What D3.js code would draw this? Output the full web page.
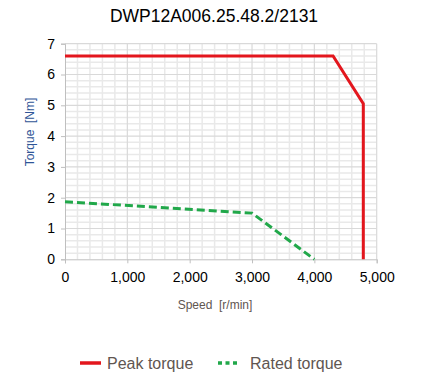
<!DOCTYPE html>
<html><head><meta charset="utf-8">
<script src="https://cdn.jsdelivr.net/npm/d3@7"></script>
<style>body{margin:0;background:#fff}svg{display:block}text{white-space:pre}</style>
</head><body>
<svg id="c" width="422" height="375"></svg>
<script>
const title = "DWP12A006.25.48.2/2131";
const xTicks = [0,1000,2000,3000,4000,5000];
const yTicks = [0,1,2,3,4,5,6,7];
const peakSpeed = [0,4300,4785,4785];
const peakTorque = [6.6,6.6,5.05,0];
const ratedSpeed = [0,3000,4000];
const ratedTorque = [1.87,1.5,0];
const seriesNames = ["Peak torque","Rated torque"];
const xLabel = "Speed\u00a0\u00a0[r/min]";
const yLabel = "Torque\u00a0\u00a0[Nm]";

const svg = d3.select("#c");
const L=65, R=376.7, T=43.7, B=259.3;
const x = d3.scaleLinear().domain([0,5000]).range([L,R]);
const y = d3.scaleLinear().domain([0,7]).range([B,T]);
const tickFont = "'Liberation Sans', Arial, sans-serif";

// minor grid
const g = svg.append("g");
g.selectAll(".mx").data(d3.range(0,5001,200).filter(v=>v%1000!==0)).enter().append("line")
 .attr("x1",d=>x(d)).attr("x2",d=>x(d)).attr("y1",T).attr("y2",B)
 .attr("stroke","#e9e9e9").attr("stroke-width",1.5);
g.selectAll(".my").data(d3.range(0,35).map(i=>i*0.2).filter((v,i)=>i%5!==0)).enter().append("line")
 .attr("x1",L).attr("x2",R).attr("y1",d=>y(d)).attr("y2",d=>y(d))
 .attr("stroke","#e9e9e9").attr("stroke-width",1.5);
// major grid
g.selectAll(".Mx").data(xTicks.slice(1)).enter().append("line")
 .attr("x1",d=>x(d)).attr("x2",d=>x(d)).attr("y1",T).attr("y2",B)
 .attr("stroke","#d9d9d9").attr("stroke-width",1.2);
g.selectAll(".My").data(yTicks.slice(1)).enter().append("line")
 .attr("x1",L).attr("x2",R).attr("y1",d=>y(d)).attr("y2",d=>y(d))
 .attr("stroke","#d9d9d9").attr("stroke-width",1.2);

// axes
const ya = svg.append("g").attr("transform",`translate(${L},0)`)
 .call(d3.axisLeft(y).tickValues(yTicks).tickSize(4).tickPadding(6).tickFormat(d3.format("d")));
const xa = svg.append("g").attr("transform",`translate(0,${B})`)
 .call(d3.axisBottom(x).tickValues(xTicks).tickSize(4).tickPadding(9).tickFormat(d3.format(",")));
[ya,xa].forEach(a=>{
  a.selectAll(".domain").attr("stroke","#bfbfbf");
  a.selectAll(".tick line").attr("stroke","#bfbfbf");
  a.selectAll("text").attr("fill","#000").style("font-family",tickFont).style("font-size","14px");
});

// series
const line = d3.line().x(d=>x(d[0])).y(d=>y(d[1]));
svg.append("path").datum(ratedSpeed.map((s,i)=>[s,ratedTorque[i]]))
 .attr("d",line).attr("fill","none").attr("stroke","#21a84a").attr("stroke-width",3)
 .attr("stroke-dasharray","8,4");
svg.append("path").datum(peakSpeed.map((s,i)=>[s,peakTorque[i]]))
 .attr("d",line).attr("fill","none").attr("stroke","#e3161d").attr("stroke-width",3)
 .attr("stroke-linejoin","miter");

// title
svg.append("text").attr("x",214).attr("y",22).attr("text-anchor","middle")
 .style("font-family",tickFont).style("font-size","17.5px").attr("fill","#000").text(title);

// axis titles
svg.append("text").attr("transform","translate(34,132) rotate(-90)").attr("text-anchor","middle")
 .style("font-family",tickFont).style("font-size","12px").attr("fill","#2f5597").text(yLabel);
svg.append("text").attr("x",215).attr("y",309).attr("text-anchor","middle")
 .style("font-family",tickFont).style("font-size","12px").attr("fill","#5f5651").text(xLabel);

// legend
const lg = svg.append("g");
lg.append("line").attr("x1",80).attr("x2",101).attr("y1",363).attr("y2",363)
 .attr("stroke","#e3161d").attr("stroke-width",3.5);
lg.append("text").attr("x",107).attr("y",368.5).style("font-family",tickFont).style("font-size","16px")
 .attr("fill","#5f5651").text(seriesNames[0]);
lg.append("line").attr("x1",218).attr("x2",240).attr("y1",363).attr("y2",363)
 .attr("stroke","#21a84a").attr("stroke-width",3.5).attr("stroke-dasharray","4,3.5");
lg.append("text").attr("x",250).attr("y",368.5).style("font-family",tickFont).style("font-size","16px")
 .attr("fill","#5f5651").text(seriesNames[1]);
</script>
</body></html>
